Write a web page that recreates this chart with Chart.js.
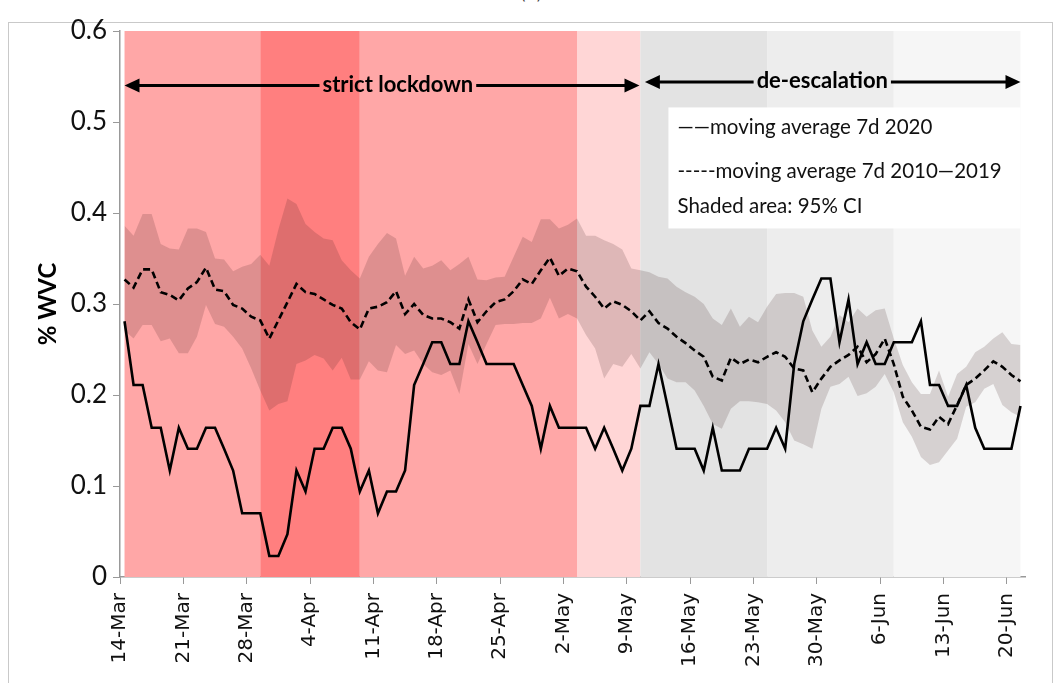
<!DOCTYPE html>
<html>
<head>
<meta charset="utf-8">
<script src="https://cdn.jsdelivr.net/npm/chart.js@4"></script>
<style>
  html, body { margin: 0; padding: 0; background: #fff; }
  #wrap { position: relative; width: 1062px; height: 683px; overflow: hidden; }
  #frame { position: absolute; left: 8px; top: 22px; width: 1043px; height: 670px; border: 1px solid #c9c9c9; }
  #tag { position: absolute; left: 520px; top: -16px; font: 16px "DejaVu Sans", sans-serif; color: #333; }
  canvas { position: absolute; left: 0; top: 0; }
</style>
</head>
<body>
<div id="wrap">
  <div id="frame"></div>
  <div id="tag">(a)</div>
  <canvas id="chart" width="1062" height="683"></canvas>
</div>
<script>
// Datos: media móvil 7 días (% WVC), 14-Mar a 21-Jun, un valor por día
const tickDays = [0, 7, 14, 21, 28, 35, 42, 49, 56, 63, 70, 77, 84, 91, 98];
const tickLabels = ['14-Mar', '21-Mar', '28-Mar', '4-Apr', '11-Apr', '18-Apr', '25-Apr', '2-May',
                    '9-May', '16-May', '23-May', '30-May', '6-Jun', '13-Jun', '20-Jun'];

const avg2020 = [
  0.281, 0.211, 0.211, 0.164, 0.164, 0.117, 0.164, 0.141, 0.141, 0.164,
  0.164, 0.141, 0.117, 0.070, 0.070, 0.070, 0.023, 0.023, 0.047, 0.117,
  0.094, 0.141, 0.141, 0.164, 0.164, 0.141, 0.094, 0.117, 0.070, 0.094,
  0.094, 0.117, 0.211, 0.234, 0.258, 0.258, 0.234, 0.234, 0.281, 0.258,
  0.234, 0.234, 0.234, 0.234, 0.211, 0.188, 0.141, 0.188, 0.164, 0.164,
  0.164, 0.164, 0.141, 0.164, 0.141, 0.117, 0.141, 0.188, 0.188, 0.234,
  0.188, 0.141, 0.141, 0.141, 0.117, 0.164, 0.117, 0.117, 0.117, 0.141,
  0.141, 0.141, 0.164, 0.141, 0.234, 0.281, 0.305, 0.328, 0.328, 0.258,
  0.305, 0.234, 0.258, 0.234, 0.234, 0.258, 0.258, 0.258, 0.281, 0.211,
  0.211, 0.188, 0.188, 0.211, 0.164, 0.141, 0.141, 0.141, 0.141, 0.188
];

const avgPast = [
  0.327, 0.318, 0.338, 0.338, 0.313, 0.310, 0.304, 0.317, 0.324, 0.340,
  0.316, 0.314, 0.299, 0.295, 0.286, 0.282, 0.262, 0.282, 0.302, 0.322,
  0.313, 0.311, 0.305, 0.299, 0.295, 0.280, 0.272, 0.295, 0.297, 0.302,
  0.314, 0.289, 0.300, 0.288, 0.284, 0.284, 0.280, 0.273, 0.305, 0.280,
  0.292, 0.302, 0.305, 0.314, 0.327, 0.322, 0.337, 0.351, 0.331, 0.339,
  0.336, 0.319, 0.308, 0.295, 0.303, 0.299, 0.292, 0.282, 0.292, 0.279,
  0.273, 0.264, 0.257, 0.249, 0.242, 0.220, 0.216, 0.241, 0.234, 0.239,
  0.236, 0.242, 0.247, 0.242, 0.229, 0.227, 0.203, 0.218, 0.231, 0.238,
  0.244, 0.253, 0.236, 0.245, 0.262, 0.234, 0.198, 0.183, 0.165, 0.162,
  0.176, 0.168, 0.189, 0.211, 0.218, 0.227, 0.237, 0.231, 0.222, 0.215
];

const ciUpper = [
  0.386, 0.375, 0.399, 0.399, 0.366, 0.361, 0.360, 0.383, 0.383, 0.379,
  0.350, 0.349, 0.336, 0.341, 0.344, 0.354, 0.342, 0.382, 0.416, 0.410,
  0.388, 0.379, 0.372, 0.370, 0.348, 0.337, 0.328, 0.352, 0.366, 0.378,
  0.372, 0.331, 0.352, 0.339, 0.342, 0.348, 0.337, 0.344, 0.352, 0.327,
  0.326, 0.329, 0.330, 0.352, 0.374, 0.368, 0.393, 0.393, 0.383, 0.387,
  0.394, 0.375, 0.375, 0.370, 0.366, 0.360, 0.339, 0.337, 0.335, 0.330,
  0.328, 0.319, 0.313, 0.308, 0.300, 0.284, 0.277, 0.295, 0.275, 0.286,
  0.280, 0.297, 0.311, 0.312, 0.312, 0.308, 0.271, 0.253, 0.264, 0.288,
  0.280, 0.295, 0.286, 0.293, 0.295, 0.262, 0.233, 0.214, 0.201, 0.201,
  0.227, 0.198, 0.223, 0.231, 0.247, 0.253, 0.262, 0.269, 0.256, 0.255
];

const ciLower = [
  0.271, 0.262, 0.277, 0.277, 0.259, 0.262, 0.246, 0.246, 0.264, 0.299,
  0.278, 0.275, 0.264, 0.251, 0.229, 0.205, 0.183, 0.190, 0.193, 0.234,
  0.238, 0.244, 0.240, 0.227, 0.241, 0.217, 0.217, 0.237, 0.227, 0.225,
  0.255, 0.245, 0.249, 0.234, 0.225, 0.222, 0.227, 0.201, 0.256, 0.234,
  0.256, 0.277, 0.278, 0.278, 0.279, 0.279, 0.284, 0.307, 0.284, 0.289,
  0.284, 0.266, 0.251, 0.218, 0.234, 0.231, 0.245, 0.229, 0.247, 0.234,
  0.218, 0.214, 0.214, 0.205, 0.188, 0.168, 0.163, 0.185, 0.193, 0.193,
  0.192, 0.190, 0.183, 0.170, 0.150, 0.146, 0.141, 0.185, 0.209, 0.212,
  0.220, 0.199, 0.202, 0.209, 0.223, 0.203, 0.170, 0.154, 0.132, 0.123,
  0.126, 0.139, 0.152, 0.187, 0.192, 0.207, 0.212, 0.189, 0.181, 0.176
];

// Fases (bordes en días) y su color de fondo
const phaseEdges = [0.5, 15.5, 26.5, 50.5, 57.5, 71.5, 85.5, 99.5];
const phaseColors = ['#ffa7a7', '#ff7f7f', '#ffa7a7', '#ffd6d6', '#e3e3e3', '#ededed', '#f6f6f6'];

const periods = [
  { label: 'strict lockdown', from: 0.5, to: 57.4, textAt: 30.7, at: 0.540 },
  { label: 'de-escalation', from: 58.0, to: 99.5, textAt: 77.6, at: 0.544 }
];

const legendLines = ['——moving average 7d 2020', '-----moving average 7d 2010—2019', 'Shaded area: 95% CI'];

const asPoints = arr => arr.map((v, i) => ({ x: i + 0.5, y: v }));

// Bandas de fondo por fase
const phaseBands = {
  id: 'phaseBands',
  beforeDatasetsDraw(chart) {
    const { ctx, chartArea, scales: { x } } = chart;
    ctx.save();
    for (let i = 0; i < phaseColors.length; i++) {
      const x0 = x.getPixelForValue(phaseEdges[i]);
      const x1 = x.getPixelForValue(phaseEdges[i + 1]);
      ctx.fillStyle = phaseColors[i];
      ctx.fillRect(x0, chartArea.top, x1 - x0, chartArea.bottom - chartArea.top);
    }
    ctx.restore();
  }
};

function arrowHead(ctx, xTip, y, dir) {
  ctx.beginPath();
  ctx.moveTo(xTip, y);
  ctx.lineTo(xTip - dir * 15, y - 7);
  ctx.lineTo(xTip - dir * 15, y + 7);
  ctx.closePath();
  ctx.fill();
}

// Flechas de periodo y caja de leyenda
const notes = {
  id: 'notes',
  afterDatasetsDraw(chart) {
    const { ctx, scales: { x, y } } = chart;
    ctx.save();
    ctx.fillStyle = '#000';
    ctx.strokeStyle = '#000';
    ctx.lineWidth = 3;
    ctx.font = 'bold 22px Lato, sans-serif';
    ctx.textBaseline = 'middle';
    ctx.textAlign = 'center';
    periods.forEach(p => {
      const a = x.getPixelForValue(p.from);
      const b = x.getPixelForValue(p.to);
      const py = y.getPixelForValue(p.at);
      const mid = x.getPixelForValue(p.textAt);
      const w = ctx.measureText(p.label).width;
      ctx.beginPath();
      ctx.moveTo(a + 10, py);
      ctx.lineTo(mid - w / 2 - 3, py);
      ctx.moveTo(mid + w / 2 + 3, py);
      ctx.lineTo(b - 10, py);
      ctx.stroke();
      arrowHead(ctx, a, py, -1);
      arrowHead(ctx, b, py, 1);
      ctx.fillText(p.label, mid, py - 1);
    });

    // caja de leyenda
    const bx0 = x.getPixelForValue(60.6);
    const bx1 = x.getPixelForValue(99.5);
    const by0 = y.getPixelForValue(0.516);
    const by1 = y.getPixelForValue(0.383);
    ctx.fillStyle = '#fff';
    ctx.fillRect(bx0, by0, bx1 - bx0, by1 - by0);
    ctx.fillStyle = '#111';
    ctx.font = '20.5px Lato, sans-serif';
    ctx.textAlign = 'left';
    const rows = [0.494, 0.446, 0.407];
    legendLines.forEach((t, i) => ctx.fillText(t, bx0 + 9, y.getPixelForValue(rows[i])));
    ctx.restore();
  }
};

new Chart(document.getElementById('chart'), {
  type: 'line',
  data: {
    datasets: [
      {
        label: 'moving average 7d 2020',
        data: asPoints(avg2020),
        borderColor: '#000',
        borderWidth: 2.6,
        pointRadius: 0,
        fill: false,
        order: 1
      },
      {
        label: 'moving average 7d 2010—2019',
        data: asPoints(avgPast),
        borderColor: '#000',
        borderWidth: 2.6,
        borderDash: [7, 4],
        pointRadius: 0,
        fill: false,
        order: 2
      },
      {
        label: '95% CI upper',
        data: asPoints(ciUpper),
        borderWidth: 0,
        borderColor: 'rgba(0,0,0,0)',
        backgroundColor: 'rgba(60,30,30,0.17)',
        pointRadius: 0,
        fill: '+1',
        order: 3
      },
      {
        label: '95% CI lower',
        data: asPoints(ciLower),
        borderWidth: 0,
        borderColor: 'rgba(0,0,0,0)',
        pointRadius: 0,
        fill: false,
        order: 4
      }
    ]
  },
  options: {
    responsive: false,
    animation: false,
    layout: { padding: { top: 31, right: 37, left: 0, bottom: 0 } },
    plugins: {
      legend: { display: false },
      tooltip: { enabled: false }
    },
    scales: {
      x: {
        type: 'linear',
        min: 0,
        max: 100,
        afterBuildTicks: axis => { axis.ticks = tickDays.map(v => ({ value: v })); },
        afterFit: axis => { axis.height = 106; },
        ticks: {
          minRotation: 90,
          maxRotation: 90,
          autoSkip: false,
          padding: 9,
          color: '#111',
          font: { family: 'DejaVu Sans', size: 20 },
          callback: v => tickLabels[tickDays.indexOf(v)]
        },
        grid: { drawOnChartArea: false, tickLength: 7, color: '#999' },
        border: { color: '#999', width: 1.5 }
      },
      y: {
        min: 0,
        max: 0.6,
        afterFit: axis => { axis.width = 120; },
        ticks: {
          stepSize: 0.1,
          padding: 6,
          color: '#111',
          font: { family: 'Lato', size: 26 },
          callback: v => (v === 0 ? '0' : v.toFixed(1))
        },
        title: {
          display: true,
          text: '% WVC',
          color: '#000',
          font: { family: 'Lato', size: 24, weight: 'bold' },
          padding: { top: 34, bottom: 0 }
        },
        grid: { drawOnChartArea: false, tickLength: 7, color: '#999' },
        border: { color: '#999', width: 1.5 }
      }
    }
  },
  plugins: [phaseBands, notes]
});
</script>
</body>
</html>
